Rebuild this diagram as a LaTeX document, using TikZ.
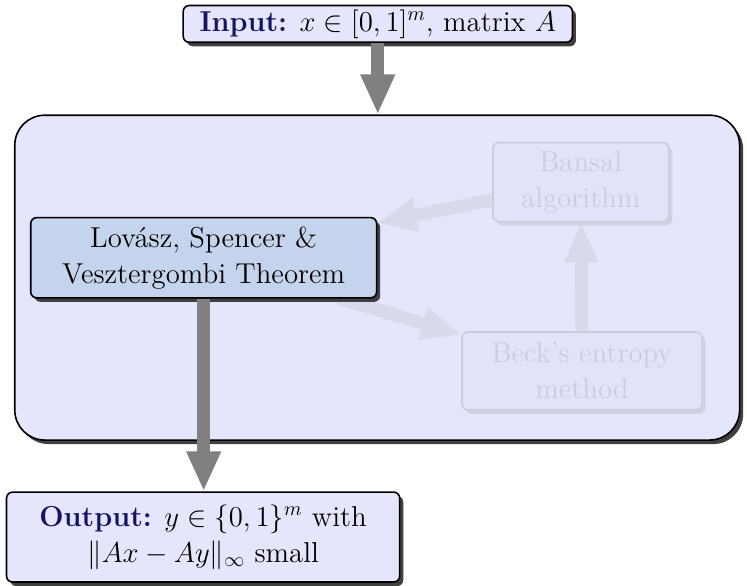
\documentclass[tikz,border=0pt]{standalone}
\usepackage{amsmath, amssymb}
\usepackage{xcolor}
\usepackage{tikz}
\usetikzlibrary{arrows.meta, positioning, shadows}
\definecolor{titleblue}{RGB}{20, 20, 100}
\definecolor{paleviolet}{RGB}{229, 229, 251}
\definecolor{theoremblue}{RGB}{197, 212, 237}

\begin{document}
\begin{tikzpicture}[
  every node/.style={font=\Large},
  shade/.style={drop shadow={shadow xshift=1.8pt, shadow yshift=-2pt, fill=black!75, opacity=1}},
  io/.style={
    draw=black, thick, fill=paleviolet, rounded corners=3pt,
    align=center, inner sep=3pt, shade
  },
  thm/.style={
    draw=black, thick, fill=theoremblue, rounded corners=3pt,
    align=center, inner sep=3pt, shade
  },
  frame/.style={
    draw=black, thick, fill=paleviolet, rounded corners=15pt, shade
  },
  fat/.style={draw=gray, line width=6.5pt, -{Triangle[width=16pt, length=20pt]}},
  faded/.style={transparency group, opacity=0.11}
]
\useasboundingbox (0,0) rectangle (13.13,-10.30);

  % Rahmen
\node[frame, minimum width=12.74cm, minimum height=5.71cm] (frame) at (6.63,-4.88) {};

  % ausgeblendete Knoten
\begin{scope}[faded]
\node[thm, minimum width=3.09cm, minimum height=1.39cm] (bansal) at (10.21,-3.20) {Bansal\\algorithm};
\node[thm, minimum width=4.22cm, minimum height=1.37cm] (beck) at (10.23,-6.52) {Beck's entropy\\method};
\node[minimum width=6.08cm, minimum height=1.41cm] (lsvghost) at (3.58,-4.53) {};
  \draw[fat] (bansal) -- (lsvghost);
  \draw[fat] (lsvghost) -- (beck);
  \draw[fat] (beck) -- (bansal);
\end{scope}

\node[thm, minimum width=6.08cm, minimum height=1.41cm] (lsv) at (3.58,-4.53) {Lov\'asz, Spencer \&\\Vesztergombi Theorem};

  % Ein- und Ausgabe
\node[io, minimum width=6.84cm, minimum height=0.62cm, inner sep=2pt] (input) at (6.64,-0.42) {\textbf{\color{titleblue}Input:} $x \in [0,1]^m$, matrix $A$};
\node[io, minimum width=6.91cm, minimum height=1.58cm] (output) at (3.57,-9.44) {\textbf{\color{titleblue}Output:} $y \in \{0,1\}^m$ with\\$\|Ax - Ay\|_\infty$ small};

  \draw[fat] (input.south) -- (frame.north -| input.south);
  \draw[fat] (lsv.south) -- (lsv.south |- output.north);

\end{tikzpicture}
\end{document}
